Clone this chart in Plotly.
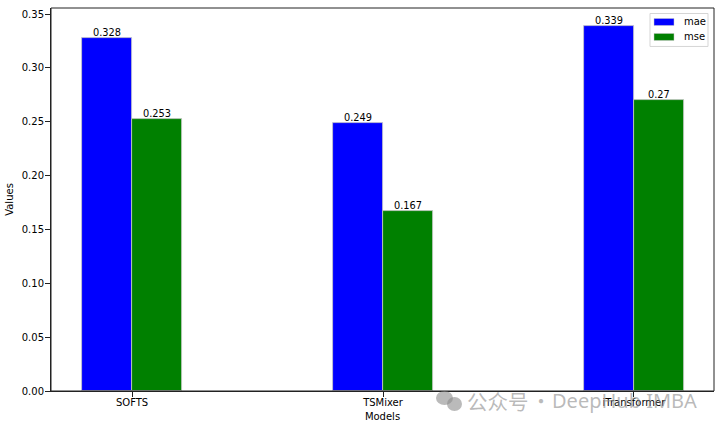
import plotly.graph_objects as go

models = ["SOFTS", "TSMixer", "iTransformer"]
mae = [0.328, 0.249, 0.339]
mse = [0.253, 0.167, 0.27]
mae_labels = ["0.328", "0.249", "0.339"]
mse_labels = ["0.253", "0.167", "0.27"]
y_ticks = [0.0, 0.05, 0.10, 0.15, 0.20, 0.25, 0.30, 0.35]

FONT = "DejaVu Sans"
W, H = 720, 430
L, R, T, B = 51, 714, 7.5, 391


def px(x):
    return (x - L) / (R - L)


def py(y):
    return (B - y) / (B - T)


fig = go.Figure()
annotations = []
shapes = []
series = [("mae", mae, mae_labels, "blue", -0.2, -0.1), ("mse", mse, mse_labels, "green", 0, 0.1)]
for name, vals, labels, color, offset, centre in series:
    fig.add_trace(go.Bar(
        name=name, x=models, y=vals, width=0.2, offset=offset, showlegend=False,
        marker=dict(color=color, line=dict(color="#c8c8c8", width=0.8)),
    ))
    for i, (v, label) in enumerate(zip(vals, labels)):
        annotations.append(dict(
            x=i + centre, y=v, xref="x", yref="y", text=label, showarrow=False,
            xanchor="center", yanchor="bottom", yshift=-1, borderpad=0,
            font=dict(family=FONT, size=9.8, color="black"),
        ))

# plot frame
shapes.append(dict(type="rect", xref="paper", yref="paper", x0=0, x1=1, y0=0, y1=1,
                   line=dict(color="#222", width=1), fillcolor="rgba(0,0,0,0)"))

# legend box
shapes.append(dict(type="rect", xref="paper", yref="paper", x0=px(650), x1=px(708), y0=py(46), y1=py(13),
                   fillcolor="rgba(255,255,255,0.8)", line=dict(color="#d5d5d5", width=1)))
for (name, _, _, color, _, _), yc in zip(series, [21.5, 36.5]):
    shapes.append(dict(type="rect", xref="paper", yref="paper", x0=px(654), x1=px(674), y0=py(yc + 3.5), y1=py(yc - 3.5),
                       fillcolor=color, line=dict(color="#c8c8c8", width=0.5)))
    annotations.append(dict(x=px(682), y=py(yc), xref="paper", yref="paper", text=name, showarrow=False,
                            xanchor="left", yanchor="middle", font=dict(family=FONT, size=10, color="black")))

# watermark
WM = "rgba(140,140,140,0.6)"
for text, xpos, family, size in [("公众号", 465, "Noto Sans CJK SC", 20.5),
                                 ("·", 529, "Noto Sans CJK SC", 20),
                                 ("DeepHub IMBA", 550, "Noto Sans", 20)]:
    annotations.append(dict(
        text=text, xref="paper", yref="paper", x=px(xpos), y=py(401), xanchor="left", yanchor="middle",
        showarrow=False, font=dict(family=family, size=size, color=WM),
    ))
for x0, x1, y0, y1 in [(436, 453, 391, 405), (447, 462, 397, 411)]:
    shapes.append(dict(type="circle", xref="paper", yref="paper", fillcolor=WM, line_width=0,
                       x0=px(x0), x1=px(x1), y0=py(y1), y1=py(y0)))

fig.update_layout(
    width=W, height=H, autosize=False,
    margin=dict(l=L, r=W - R, t=T, b=H - B, pad=0),
    paper_bgcolor="white", plot_bgcolor="white",
    font=dict(family=FONT, size=10, color="black"),
    bargap=0, showlegend=False,
    xaxis=dict(
        type="category", range=[-0.323, 2.319],
        showline=True, linecolor="#222", linewidth=1,
        ticks="outside", ticklen=5, tickcolor="#222", showgrid=False, ticklabelstandoff=-3,
        title=dict(text="Models", font=dict(family=FONT, size=10), standoff=5),
        tickfont=dict(family=FONT, size=10),
    ),
    yaxis=dict(
        range=[0, 0.3557], tickvals=y_ticks, tickformat=".2f",
        showline=True, linecolor="#222", linewidth=1,
        ticks="outside", ticklen=5, tickcolor="#222", showgrid=False, zeroline=False, ticklabelstandoff=-1,
        title=dict(text="Values", font=dict(family=FONT, size=10), standoff=6),
        tickfont=dict(family=FONT, size=10),
    ),
    annotations=annotations,
    shapes=shapes,
)
fig.write_html("out.html", config=dict(displayModeBar=False), post_script="document.body.style.margin='0';")
